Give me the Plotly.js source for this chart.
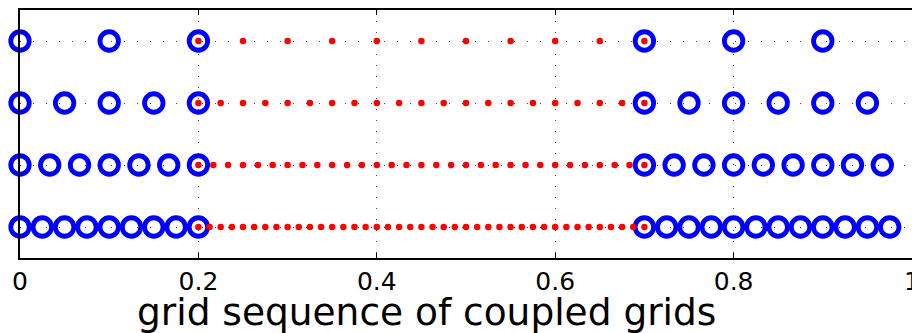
<!DOCTYPE html>
<html>
<head>
<meta charset="utf-8">
<script src="https://cdn.plot.ly/plotly-3.0.1.min.js"></script>
<style>html,body{margin:0;padding:0;background:#fff}#chart{width:912px;height:333px}</style>
</head>
<body>
<div id="chart"></div>
<script>
// Grid levels (top row = coarsest)
const rowLevels = [4, 3, 2, 1];

// Coarse grid points (blue circles) for each level
const coarse1 = [0, 0.1, 0.2, 0.7, 0.8, 0.9];
const coarse2 = [0, 0.05, 0.1, 0.15, 0.2, 0.7, 0.75, 0.8, 0.85, 0.9, 0.95];
const coarse3 = [0, 0.0333, 0.0667, 0.1, 0.1333, 0.1667, 0.2, 0.7, 0.7333, 0.7667, 0.8, 0.8333, 0.8667, 0.9, 0.9333, 0.9667];
const coarse4 = [0, 0.025, 0.05, 0.075, 0.1, 0.125, 0.15, 0.175, 0.2, 0.7, 0.725, 0.75, 0.775, 0.8, 0.825, 0.85, 0.875, 0.9, 0.925, 0.95, 0.975];

// Fine grid points (red dots) for each level
const fine1 = [0.2, 0.25, 0.3, 0.35, 0.4, 0.45, 0.5, 0.55, 0.6, 0.65, 0.7];
const fine2 = [0.2, 0.225, 0.25, 0.275, 0.3, 0.325, 0.35, 0.375, 0.4, 0.425, 0.45, 0.475, 0.5, 0.525, 0.55, 0.575, 0.6, 0.625, 0.65, 0.675, 0.7];
const fine3 = [0.2, 0.2167, 0.2333, 0.25, 0.2667, 0.2833, 0.3, 0.3167, 0.3333, 0.35, 0.3667, 0.3833, 0.4, 0.4167, 0.4333, 0.45, 0.4667, 0.4833, 0.5, 0.5167, 0.5333, 0.55, 0.5667, 0.5833, 0.6, 0.6167, 0.6333, 0.65, 0.6667, 0.6833, 0.7];
const fine4 = [0.2, 0.2125, 0.225, 0.2375, 0.25, 0.2625, 0.275, 0.2875, 0.3, 0.3125, 0.325, 0.3375, 0.35, 0.3625, 0.375, 0.3875, 0.4, 0.4125, 0.425, 0.4375, 0.45, 0.4625, 0.475, 0.4875, 0.5, 0.5125, 0.525, 0.5375, 0.55, 0.5625, 0.575, 0.5875, 0.6, 0.6125, 0.625, 0.6375, 0.65, 0.6625, 0.675, 0.6875, 0.7];

const xTickVals = [0, 0.2, 0.4, 0.6, 0.8, 1];
const xTickText = ["0", "0.2", "0.4", "0.6", "0.8", "1"];
const xLabel = "grid sequence of coupled grids";

const coarseSets = [coarse1, coarse2, coarse3, coarse4];
const fineSets = [fine1, fine2, fine3, fine4];

const traces = [];
coarseSets.forEach((xs, i) => {
  traces.push({
    type: 'scatter', mode: 'markers', x: xs, y: xs.map(() => rowLevels[i]),
    marker: {symbol: 'circle-open', size: 18.5, color: '#0000ff', line: {width: 4.8, color: '#0000ff'}},
    cliponaxis: false, showlegend: false, hoverinfo: 'x'
  });
});
fineSets.forEach((xs, i) => {
  traces.push({
    type: 'scatter', mode: 'markers', x: xs, y: xs.map(() => rowLevels[i]),
    marker: {symbol: 'circle', size: 6.5, color: '#ff0000'},
    cliponaxis: false, showlegend: false, hoverinfo: 'x'
  });
});

const layout = {
  width: 912, height: 333,
  margin: {l: 20, r: 0, t: 10, b: 75},
  paper_bgcolor: '#ffffff', plot_bgcolor: '#ffffff',
  font: {family: 'DejaVu Sans', color: '#000000'},
  xaxis: {
    range: [0, 1], tickvals: xTickVals, ticktext: xTickText,
    ticks: 'inside', ticklen: 5, tickcolor: '#000', tickwidth: 1,
    showline: true, linecolor: '#000', linewidth: 2, mirror: 'ticks',
    showgrid: true, gridcolor: '#444', gridwidth: 1, griddash: '1px,10px',
    zeroline: false, tickfont: {size: 25, family: 'DejaVu Sans'},
    ticklabelstandoff: 0, ticklabeloverflow: 'allow'
  },
  yaxis: {
    range: [0.5, 4.5], tickvals: rowLevels, showticklabels: false,
    ticks: '',
    showline: true, linecolor: '#000', linewidth: 2, mirror: true,
    showgrid: true, gridcolor: '#444', gridwidth: 1, griddash: '1px,12px',
    zeroline: false
  },
  annotations: [{
    text: xLabel, xref: 'paper', yref: 'paper', x: 0.456, y: 0,
    xanchor: 'center', yanchor: 'top', yshift: -30, showarrow: false,
    font: {size: 37.5, family: 'DejaVu Sans', color: '#000'}
  }]
};

Plotly.newPlot('chart', traces, layout, {displayModeBar: false, staticPlot: true});
</script>
</body>
</html>
